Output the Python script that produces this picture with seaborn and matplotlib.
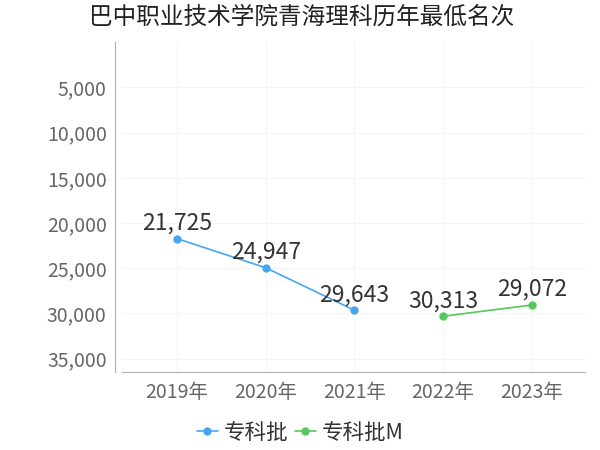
import pandas as pd
import matplotlib
matplotlib.use('Agg')
import matplotlib.pyplot as plt
import seaborn as sns
from matplotlib.ticker import FuncFormatter

# data
years = ['2019年', '2020年', '2021年', '2022年', '2023年']
series_names = ['专科批', '专科批M']
zk_years = ['2019年', '2020年', '2021年']
zk_values = [21725, 24947, 29643]
zkm_years = ['2022年', '2023年']
zkm_values = [30313, 29072]
y_ticks = [5000, 10000, 15000, 20000, 25000, 30000, 35000]

colors = ['#45a5f5', '#55c75d']

sns.set_theme(style='white')
plt.rcParams['font.family'] = ['Noto Sans CJK SC', 'DejaVu Sans']

df = pd.concat([
    pd.DataFrame({'year': zk_years, 'rank': zk_values, 'series': series_names[0]}),
    pd.DataFrame({'year': zkm_years, 'rank': zkm_values, 'series': series_names[1]}),
])
df['x'] = df['year'].map({y: i for i, y in enumerate(years)})

fig = plt.figure(figsize=(6, 4.5), dpi=100)
ax = fig.add_axes([0.2033, 0.173, 0.7717, 0.733])

sns.lineplot(data=df, x='x', y='rank', hue='series', palette=colors,
             marker='o', markersize=6, markeredgewidth=0, linewidth=1.2,
             ax=ax, legend=True)

for _, row in df.iterrows():
    ax.text(row['x'], row['rank'] - 450, f"{row['rank']:,}", ha='center', va='bottom',
            fontsize=16.5, color='#333333')

ax.set_xlim(-0.62, 4.6)
ax.set_ylim(36500, 0)
ax.set_yticks(y_ticks)
ax.yaxis.set_major_formatter(FuncFormatter(lambda v, p: f"{int(v):,}"))
ax.set_xticks(range(len(years)))
ax.set_xticklabels(years)
ax.set_xlabel('')
ax.set_ylabel('')
ax.tick_params(axis='both', labelsize=14, labelcolor='#666666', colors='#b0b0b0',
               length=4, width=0.8)
ax.tick_params(axis='y', labelcolor='#666666', pad=2)
ax.tick_params(axis='x', pad=3)
ax.grid(True, axis='both', color='#f5f5f5', linewidth=0.8)
for side in ['top', 'right']:
    ax.spines[side].set_visible(False)
for side in ['left', 'bottom']:
    ax.spines[side].set_color('#b0b0b0')
    ax.spines[side].set_linewidth(0.8)
ax.spines['left'].set_position(('outward', 5))

handles, labels = ax.get_legend_handles_labels()
ax.legend(handles, labels, loc='center', bbox_to_anchor=(0.5, 0.038),
          bbox_transform=fig.transFigure, ncol=2,
          frameon=False, fontsize=15.5, handlelength=1.0, handletextpad=0.25,
          columnspacing=0.3, labelcolor='#333333')

fig.suptitle('巴中职业技术学院青海理科历年最低名次', x=0.502, y=0.988, fontsize=17,
             color='#222222')

fig.savefig('out.png', dpi=100)
